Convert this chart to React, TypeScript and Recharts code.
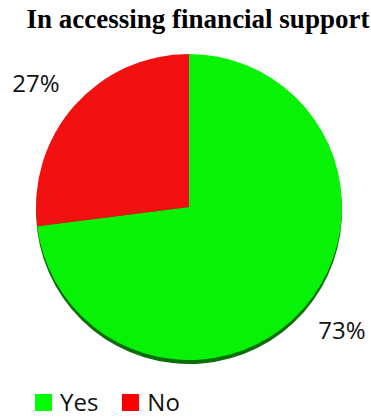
import React from 'react';
import { PieChart, Pie, Cell, Legend } from 'recharts';

const categories = ['Yes', 'No'];
const values = [73, 27];
const colors = ['#08f208', '#f21010'];
const legendColors = ['#00ff00', '#ff0000'];
const title = 'In accessing financial support';

const data = categories.map((name, i) => ({ name, value: values[i] }));

const RAD = Math.PI / 180;

const renderLabel = (props: any) => {
  const { cx, cy, midAngle, outerRadius, percent } = props;
  const rx = outerRadius + 51;
  const ry = outerRadius + 34;
  const x = cx + rx * Math.cos(-midAngle * RAD);
  const y = cy + ry * Math.sin(-midAngle * RAD);
  return (
    <text x={x} y={y + 8.5} textAnchor="middle" fill="#111" fontFamily="'Open Sans', sans-serif" fontSize={24}>
      {`${Math.round(percent * 100)}%`}
    </text>
  );
};

const LegendContent = () => (
  <div style={{ display: 'flex', alignItems: 'center', fontFamily: "'Open Sans', sans-serif", fontSize: 24, color: '#111', lineHeight: '30px' }}>
    {categories.map((c, i) => (
      <div key={c} style={{ display: 'flex', alignItems: 'center', marginRight: i === 0 ? 24 : 0 }}>
        <div style={{ width: 17, height: 17, background: legendColors[i], marginRight: 8 }} />
        <span>{c}</span>
      </div>
    ))}
  </div>
);

export default function App() {
  return (
    <div style={{ position: 'absolute', left: 0, top: 0, width: 371, height: 419, background: '#fff' }}>
      <PieChart width={371} height={419} margin={{ top: 0, right: 0, bottom: 0, left: 0 }}>
        <text x={198} y={28} textAnchor="middle" fontFamily="'Liberation Serif', 'Times New Roman', serif" fontWeight="bold" fontSize={27} fill="#000">
          {title}
        </text>
        <Pie
          data={data}
          dataKey="value"
          cx={189}
          cy={211}
          outerRadius={153}
          startAngle={90}
          endAngle={-270}
          stroke="none"
          isAnimationActive={false}
          legendType="none"
        >
          {data.map((d) => (
            <Cell key={d.name} fill="#0a6e0a" />
          ))}
        </Pie>
        <Pie
          data={data}
          dataKey="value"
          cx={189}
          cy={207}
          outerRadius={153}
          startAngle={90}
          endAngle={-270}
          stroke="none"
          isAnimationActive={false}
          label={renderLabel}
          labelLine={false}
        >
          {data.map((d, i) => (
            <Cell key={d.name} fill={colors[i]} />
          ))}
        </Pie>
        <Legend content={<LegendContent />} wrapperStyle={{ position: 'absolute', left: 35, top: 387, width: 220 }} />
      </PieChart>
    </div>
  );
}
